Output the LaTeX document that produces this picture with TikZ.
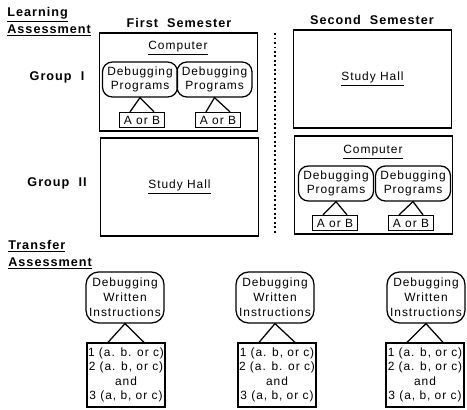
\documentclass[tikz,border=0pt]{standalone}
\usepackage{fontspec}
\setmainfont{Liberation Sans}[LetterSpace=8]
\usetikzlibrary{positioning}

\begin{document}
\begin{tikzpicture}[x=0.25mm, y=-0.25mm, font=\fontsize{8.5}{10}\selectfont,
  room/.style={draw, line width=1.1pt, minimum width=39.5mm, minimum height=24.5mm,
               inner sep=0pt},
  task/.style={draw, line width=0.9pt, rounded corners=7pt, align=center, inner sep=0pt,
               minimum width=18.75mm, minimum height=8.75mm},
  form/.style={draw, line width=0.9pt, minimum width=11.25mm, minimum height=3.75mm,
               inner sep=0pt},
  transfer/.style={task, rounded corners=9pt, minimum width=19.5mm, minimum height=12.75mm,
                   font=\fontsize{8.5}{10.7}\selectfont},
  answers/.style={draw, line width=0.9pt, align=center, inner sep=0pt,
                  minimum width=19.5mm, minimum height=16mm,
                  font=\fontsize{8.5}{10.3}\selectfont},
  head/.style={font=\fontsize{9}{11}\selectfont\bfseries},
  leg/.style={line width=0.9pt}]
\useasboundingbox (0,0) rectangle (467,409);
% headings
\node[head, anchor=north west, align=left, inner sep=0pt] (learn) at (7,7)
  {\underline{Learning}\\[1pt]\underline{Assessment}};
\node[head] (first)  at (179,23) {First\ \ Semester};
\node[head] (second) at (372,20) {Second\ \ Semester};
\node[head] (grp1) at (57,77)  {Group\ \ I};
\node[head] (grp2) at (57,183) {Group\ \ II};
% learning rooms
\node[room] (c11) at (178.5,82) {};
\node[room] (c21) at (179.5,187) {\underline{Study Hall}};
\node[room] (c12) at (372.5,79) {\underline{Study Hall}};
\node[room] (c22) at (373.5,185) {};
\coordinate (sepT) at (275,33);
\coordinate (sepB) at (275,235);
\draw[dotted, line width=1.2pt] (sepT) -- (sepB);
% computer, first semester
\node (pc1) at (178,48) {\underline{Computer}};
\node[task] (e11) at (140,79.5) {Debugging\\Programs};
\node[task] (e12) at (214.5,79.5) {Debugging\\Programs};
\node[form] (a11) at (142,120) {A or B};
\node[form] (a12) at (218,120) {A or B};
% computer, second semester
\node (pc2) at (373,152) {\underline{Computer}};
\node[task] (e21) at (336,183.5) {Debugging\\Programs};
\node[task] (e22) at (413,183.5) {Debugging\\Programs};
\node[form] (a21) at (335,223) {A or B};
\node[form] (a22) at (411,223) {A or B};
\foreach \e/\a in {e11/a11,e12/a12,e21/a21,e22/a22}{
  \draw[leg] ([xshift=-3mm]\a.north) -- (\e.south) -- ([xshift=3mm]\a.north);}
% transfer
\node[head, anchor=north west, align=left, inner sep=0pt] (trans) at (8,240)
  {\underline{Transfer}\\[1pt]\underline{Assessment}};
\node[transfer] (t1) at (125,297.5) {Debugging\\Written\\Instructions};
\node[transfer] (t2) at (275,297.5) {Debugging\\Written\\Instructions};
\node[transfer] (t3) at (426,297.5) {Debugging\\Written\\Instructions};
\node[answers] (b1) at (126,375) {1 (a. b. or c)\\2 (a. b, or c)\\and\\3 (a, b, or c)};
\node[answers] (b2) at (277,375) {1 (a. b, or c)\\2 (a. b. or c)\\and\\3 (a, b, or c)};
\node[answers] (b3) at (425,375) {1 (a. b, or c)\\2 (a. b, or c)\\and\\3 (a, b, or c)};
\foreach \t/\b in {t1/b1,t2/b2,t3/b3}{
  \draw[leg] ([xshift=-4.5mm]\b.north) -- (\t.south) -- ([xshift=4.5mm]\b.north);}
\end{tikzpicture}
\end{document}
